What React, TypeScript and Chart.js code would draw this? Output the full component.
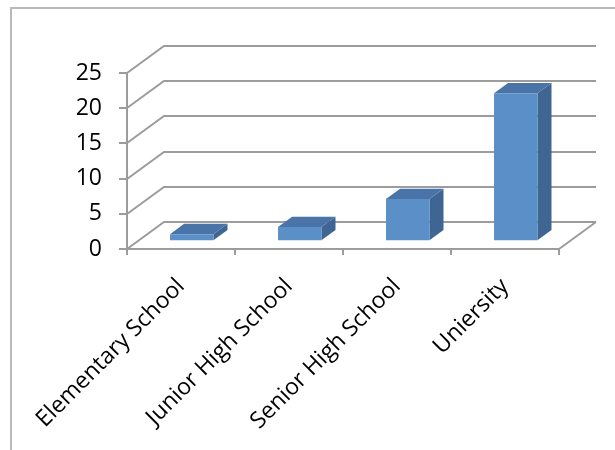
import React, { useEffect, useRef } from "react";
import { Chart, registerables } from "chart.js";

Chart.register(...registerables);

// Chart data
const categories = ["Elementary School", "Junior High School", "Senior High School", "Uniersity"];
const values = [1, 2, 6, 21];
const yMin = 0;
const yMax = 25;
const yStep = 5;

// Styling
const FONT_FAMILY = "'Open Sans', Lato, sans-serif";
const LINE = "#9c9c9c";
const FRAME = "#b9b9b9";
const FACE_FRONT = "#5b8fc7";
const FACE_TOP = "#4a74a8";
const FACE_SIDE = "#3f6592";

// Perspective offset from the front plane to the back wall
const DEPTH_X = 37;
const DEPTH_Y = -27;
// Bars sit between these fractions of the depth
const BAR_START = 0.29;
const BAR_DEPTH = 0.38;

const box3d = {
  id: "box3d",
  beforeDraw(chart: any) {
    const { ctx } = chart;
    ctx.save();
    ctx.strokeStyle = FRAME;
    ctx.lineWidth = 2;
    ctx.beginPath();
    ctx.moveTo(11, 470);
    ctx.lineTo(11, 8);
    ctx.lineTo(640, 8);
    ctx.stroke();
    ctx.restore();
  },
  beforeDatasetsDraw(chart: any) {
    const { ctx, chartArea: a } = chart;
    const y = chart.scales.y;
    ctx.save();
    ctx.strokeStyle = LINE;
    ctx.lineWidth = 2;
    // side wall diagonals and back wall gridlines
    for (const t of y.ticks) {
      const py = Math.round(y.getPixelForValue(t.value));
      ctx.beginPath();
      ctx.moveTo(a.left, py);
      ctx.lineTo(a.left + DEPTH_X, py + DEPTH_Y);
      ctx.lineTo(a.right + DEPTH_X, py + DEPTH_Y);
      ctx.stroke();
    }
    // right edge of the floor
    const y0 = Math.round(y.getPixelForValue(yMin));
    ctx.beginPath();
    ctx.moveTo(a.right, y0);
    ctx.lineTo(a.right + DEPTH_X, y0 + DEPTH_Y);
    ctx.stroke();
    ctx.restore();
  },
  afterDatasetsDraw(chart: any) {
    const { ctx } = chart;
    const meta = chart.getDatasetMeta(0);
    const ox = BAR_START * DEPTH_X;
    const oy = BAR_START * DEPTH_Y;
    const dx = BAR_DEPTH * DEPTH_X;
    const dy = BAR_DEPTH * DEPTH_Y;
    const poly = (pts: number[][], color: string) => {
      ctx.beginPath();
      ctx.moveTo(pts[0][0], pts[0][1]);
      for (let i = 1; i < pts.length; i++) ctx.lineTo(pts[i][0], pts[i][1]);
      ctx.closePath();
      ctx.fillStyle = color;
      ctx.fill();
    };
    ctx.save();
    meta.data.forEach((bar: any) => {
      const { x, y, base, width } = bar.getProps(["x", "y", "base", "width"], true);
      const l = x - width / 2 + ox;
      const r = x + width / 2 + ox;
      const t = y + oy;
      const b = base + oy;
      poly([[r, t], [r + dx, t + dy], [r + dx, b + dy], [r, b]], FACE_SIDE);
      poly([[l, t], [l + dx, t + dy], [r + dx, t + dy], [r, t]], FACE_TOP);
      poly([[l, t], [r, t], [r, b], [l, b]], FACE_FRONT);
    });
    ctx.restore();
  },
};

export default function App() {
  const canvasRef = useRef<HTMLCanvasElement | null>(null);

  useEffect(() => {
    if (!canvasRef.current) return;
    const chart = new Chart(canvasRef.current, {
      type: "bar",
      data: {
        labels: categories,
        datasets: [
          {
            data: values,
            backgroundColor: "rgba(0,0,0,0)",
            borderWidth: 0,
            barPercentage: 0.402,
            categoryPercentage: 1,
          },
        ],
      },
      options: {
        animation: false,
        responsive: false,
        devicePixelRatio: 1,
        layout: { padding: { top: 73, right: 56, bottom: 0, left: 0 } },
        plugins: {
          legend: { display: false },
          tooltip: { enabled: false },
        },
        scales: {
          x: {
            offset: true,
            grid: {
              offset: true,
              drawOnChartArea: false,
              drawTicks: true,
              tickLength: 6,
              color: LINE,
              lineWidth: 2,
            },
            border: { display: true, color: LINE, width: 2 },
            ticks: {
              minRotation: 45,
              maxRotation: 45,
              autoSkip: false,
              padding: 18,
              color: "#000",
              font: { family: FONT_FAMILY, size: 23 },
            },
            afterFit(scale: any) {
              scale.height = 201;
              scale.paddingLeft = 0;
              scale.paddingRight = 0;
            },
          },
          y: {
            min: yMin,
            max: yMax,
            grid: {
              drawOnChartArea: false,
              drawTicks: true,
              tickLength: 8,
              color: LINE,
              lineWidth: 2,
            },
            border: { display: true, color: LINE, width: 2 },
            ticks: {
              stepSize: yStep,
              padding: 17,
              color: "#000",
              font: { family: FONT_FAMILY, size: 23 },
            },
            afterFit(scale: any) {
              scale.width = 127;
              scale.paddingTop = 0;
              scale.paddingBottom = 0;
            },
          },
        },
      },
      plugins: [box3d],
    });
    return () => chart.destroy();
  }, []);

  return (
    <div style={{ position: "absolute", left: 0, top: 0, width: 615, height: 450, background: "#fff" }}>
      <canvas ref={canvasRef} width={615} height={450} />
    </div>
  );
}
